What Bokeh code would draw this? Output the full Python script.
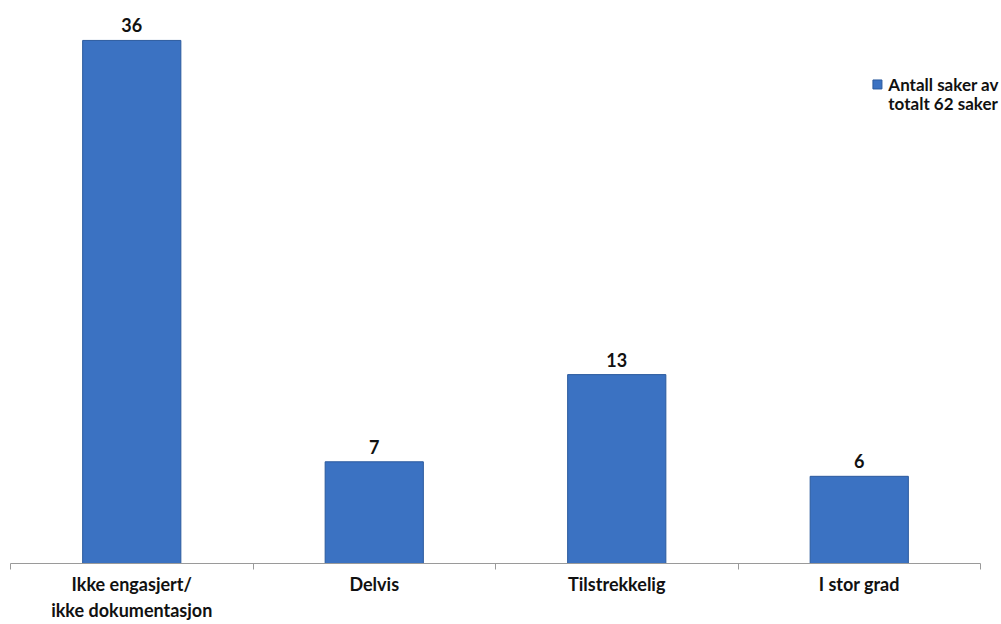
from bokeh.plotting import figure
from bokeh.models import ColumnDataSource, Range1d, FixedTicker, LabelSet, Label
from bokeh.core.properties import value
from bokeh.embed import file_html
from bokeh.resources import INLINE

categories = ["Ikke engasjert/\nikke dokumentasjon", "Delvis", "Tilstrekkelig", "I stor grad"]
values = [36, 7, 13, 6]
series_name = "Antall saker av\ntotalt 62 saker"

FONT = "Lato"
BAR = "#3b72c2"

n = len(categories)
centers = [i + 0.5 for i in range(n)]
src = ColumnDataSource(dict(x=centers, top=values, lab=[str(v) for v in values]))

p = figure(width=1001, height=624, output_backend="svg", toolbar_location=None,
           x_range=Range1d(0, n * 991 / 970), y_range=Range1d(0, 38.06),
           min_border_left=10, min_border_right=0, min_border_top=10, min_border_bottom=61)
p.outline_line_color = None
p.xgrid.visible = False
p.ygrid.visible = False
p.yaxis.visible = False
p.background_fill_color = "white"
p.border_fill_color = "white"

p.vbar(x="x", top="top", width=0.405, source=src, fill_color=BAR, line_color="#2b5a9e", line_width=1)

ax = p.xaxis[0]
ax.bounds = (0, n)
ax.ticker = FixedTicker(ticks=centers, minor_ticks=list(range(n + 1)))
ax.major_label_overrides = {c: lab for c, lab in zip(centers, categories)}
ax.major_tick_out = 0
ax.major_tick_in = 0
ax.minor_tick_out = 6
ax.minor_tick_in = 0
ax.axis_line_color = "#9a9a9a"
ax.minor_tick_line_color = "#9a9a9a"
ax.major_label_text_font = FONT
ax.major_label_text_font_style = "bold"
ax.major_label_text_font_size = "18px"
ax.major_label_text_line_height = 1.2
ax.major_label_text_color = "#111111"
ax.major_label_standoff = 3

labels = LabelSet(x="x", y="top", text="lab", source=src, text_align="center",
                  text_baseline="bottom", y_offset=8, text_font=value(FONT),
                  text_font_style="bold", text_font_size="18px", text_color="#111111")
p.add_layout(labels)

# legend
lines = series_name.split("\n")
p.scatter(x=[3.575], y=[32.97], marker="square", size=9, fill_color=BAR, line_color="#2b5a9e")
p.add_layout(Label(x=3.62, y=32.97, text=lines[0], text_baseline="middle", text_font=FONT,
                   text_font_style="bold", text_font_size="17px", text_color="#111111"))
p.add_layout(Label(x=3.62, y=31.66, text=lines[1], text_baseline="middle", text_font=FONT,
                   text_font_style="bold", text_font_size="17px", text_color="#111111"))

open("out.html", "w").write(file_html(p, INLINE))
